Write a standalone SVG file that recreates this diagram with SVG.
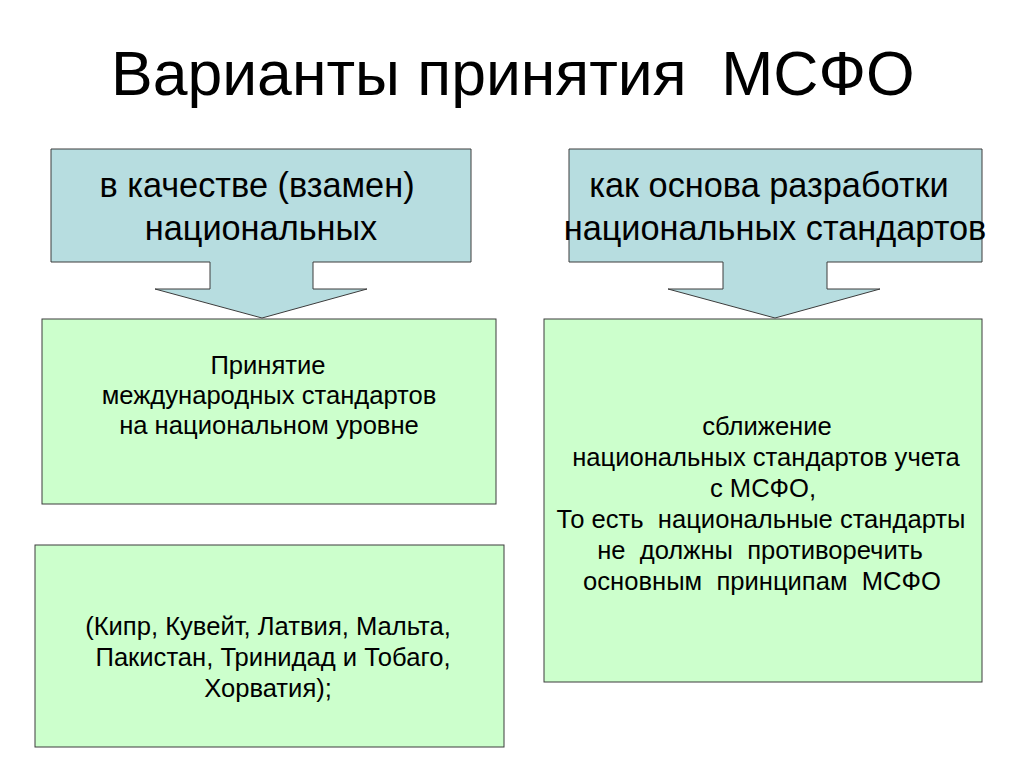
<svg xmlns="http://www.w3.org/2000/svg" width="1024" height="767" viewBox="0 0 1024 767">
<style>
text{font-family:"Liberation Sans",Arial,sans-serif;fill:#000;white-space:pre}
.title{font-size:62.5px}
.call{font-size:34.3px;text-anchor:middle}
.body{font-size:25.6px;text-anchor:middle}
.blue{fill:#b7dde0;stroke:#3c3c3c;stroke-width:1}
.green{fill:#ccffcc;stroke:#3c3c3c;stroke-width:1}
</style>
<rect width="1024" height="767" fill="#ffffff"/>
<text class="title" x="111" y="95">Варианты принятия  МСФО</text>
<g id="callout-left">
<path class="blue" d="M51,149 H471 V262 H313 V289 H367 L262,318 L155,289 H210 V262 H51 Z"/>
<text class="call" x="257" y="197">в качестве (взамен)</text>
<text class="call" x="261" y="240">национальных</text>
</g>
<g id="callout-right">
<path class="blue" d="M569,149 H982 V262 H827 V289 H880 L775,318 L668,289 H723 V262 H569 Z"/>
<text class="call" x="769" y="197">как основа разработки</text>
<text class="call" x="775" y="240">национальных стандартов</text>
</g>
<g id="box-adoption">
<rect class="green" x="42" y="319" width="454" height="185"/>
<text class="body" x="268" y="374">Принятие</text>
<text class="body" x="269" y="404">международных стандартов</text>
<text class="body" x="269" y="434">на национальном уровне</text>
</g>
<g id="box-countries">
<rect class="green" x="35" y="545" width="469" height="202"/>
<text class="body" x="268" y="635">(Кипр, Кувейт, Латвия, Мальта,</text>
<text class="body" x="273" y="666">Пакистан, Тринидад и Тобаго,</text>
<text class="body" x="268" y="697">Хорватия);</text>
</g>
<g id="box-convergence">
<rect class="green" x="544" y="319" width="438" height="363"/>
<text class="body" x="767" y="435">сближение</text>
<text class="body" x="766" y="466">национальных стандартов учета</text>
<text class="body" x="763" y="497">с МСФО,</text>
<text class="body" x="761" y="528">То есть  национальные стандарты</text>
<text class="body" x="760" y="559">не  должны  противоречить</text>
<text class="body" x="762" y="590">основным  принципам  МСФО</text>
</g>
<g id="connectors"></g>
</svg>
